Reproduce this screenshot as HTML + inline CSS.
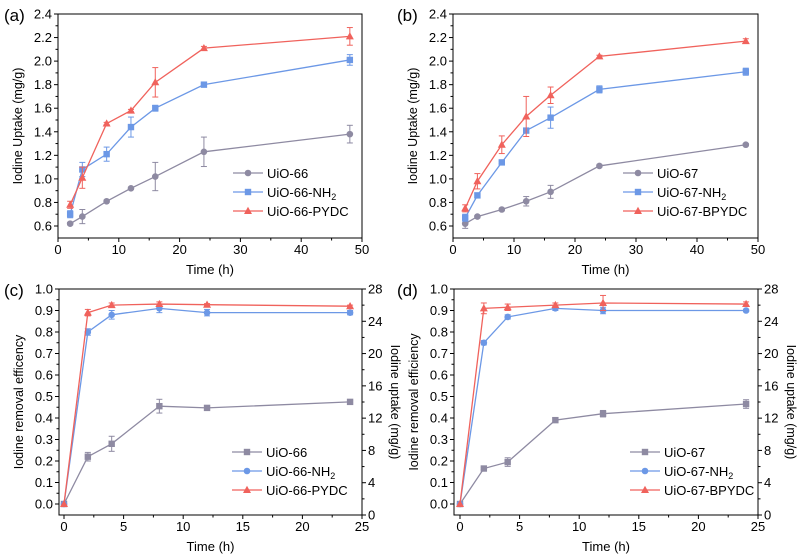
<!DOCTYPE html>
<html><head><meta charset="utf-8">
<style>
html,body{margin:0;padding:0;background:#fff;}
svg{display:block;font-family:"Liberation Sans",Arial,sans-serif;}
</style></head>
<body>
<svg id="fig" width="800" height="560" viewBox="0 0 800 560" xmlns="http://www.w3.org/2000/svg"></svg>
<script>
// ---- data ----
const timeAB = [2,4,8,12,16,24,48];
const timeCD = [0,2,4,8,12,24];
const a66 = [0.62,0.68,0.81,0.92,1.02,1.23,1.38];
const a66Err = [0.01,0.06,0.01,0.01,0.12,0.125,0.075];
const a66NH2 = [0.70,1.08,1.21,1.44,1.60,1.80,2.01];
const a66NH2Err = [0.03,0.06,0.06,0.085,0.025,0.01,0.045];
const a66PYDC = [0.78,1.01,1.47,1.58,1.82,2.11,2.21];
const a66PYDCErr = [0.03,0.09,0.01,0.01,0.125,0.015,0.075];
const b67 = [0.62,0.68,0.74,0.81,0.89,1.11,1.29];
const b67Err = [0.04,0.01,0.01,0.04,0.055,0.01,0.01];
const b67NH2 = [0.67,0.86,1.14,1.41,1.52,1.76,1.91];
const b67NH2Err = [0.03,0.02,0.01,0.02,0.09,0.03,0.03];
const b67BPYDC = [0.75,0.98,1.29,1.53,1.71,2.04,2.17];
const b67BPYDCErr = [0.03,0.065,0.075,0.17,0.07,0.01,0.02];
const c66 = [0,0.22,0.28,0.455,0.447,0.475];
const c66Err = [0,0.02,0.035,0.032,0.005,0.005];
const c66NH2 = [0,0.80,0.88,0.91,0.89,0.89];
const c66NH2Err = [0,0.015,0.02,0.02,0.015,0.01];
const c66PYDC = [0,0.89,0.925,0.93,0.927,0.92];
const c66PYDCErr = [0,0.015,0.01,0.01,0.005,0.005];
const d67 = [0,0.165,0.195,0.39,0.42,0.465];
const d67Err = [0,0.005,0.02,0.01,0.015,0.02];
const d67NH2 = [0,0.75,0.87,0.91,0.90,0.90];
const d67NH2Err = [0,0.01,0.01,0.01,0.015,0.005];
const d67BPYDC = [0,0.91,0.915,0.925,0.935,0.93];
const d67BPYDCErr = [0,0.025,0.015,0.01,0.035,0.01];
const xTicksAB = [0,10,20,30,40,50];
const yTicksAB = [0.6,0.8,1.0,1.2,1.4,1.6,1.8,2.0,2.2,2.4];
const xTicksCD = [0,5,10,15,20,25];
const yTicksCD = [0.0,0.1,0.2,0.3,0.4,0.5,0.6,0.7,0.8,0.9,1.0];
const y2TicksCD = [0,4,8,12,16,20,24,28];

const NS='http://www.w3.org/2000/svg';
const svg=document.getElementById('fig');
const GRAY='#8e8aa2', BLUE='#6c98e6', RED='#f0625c';
function mk(tag,attrs,parent){const e=document.createElementNS(NS,tag);for(const k in attrs)e.setAttribute(k,attrs[k]);(parent||svg).appendChild(e);return e;}

function panel(p){
  const g=mk('g',{});
  
  
  const sx=v=>p.px0+(v-p.x0)/(p.x1-p.x0)*(p.px1-p.px0);
  const sy=v=>p.py0-(v-p.y0)/(p.y1-p.y0)*(p.py0-p.py1);
  const L=p.fl,R=p.px1,T=p.py1,B=p.fb;
  const fr=mk('rect',{x:L,y:T,width:R-L,height:B-T,fill:'none',stroke:'#000','stroke-width':1},g);
  
  p.xt.forEach((t,i)=>{
    const x=sx(t);
    mk('line',{x1:x,x2:x,y1:B,y2:B+4,stroke:'#000'},g);
    const tx=mk('text',{x:x,y:B+16,'font-size':13,'text-anchor':'middle'},g);tx.textContent=t;
    
    if(i<p.xt.length-1){const m=sx((t+p.xt[i+1])/2);mk('line',{x1:m,x2:m,y1:B,y2:B+2.5,stroke:'#000'},g);}
  });
  p.yt.forEach((t,i)=>{
    const y=sy(t);
    mk('line',{x1:L,x2:L-4,y1:y,y2:y,stroke:'#000'},g);
    const tx=mk('text',{x:L-6,y:y+4.5,'font-size':13,'text-anchor':'end'},g);tx.textContent=t.toFixed(1);
    
    if(i<p.yt.length-1){const m=sy((t+p.yt[i+1])/2);mk('line',{x1:L,x2:L-2.5,y1:m,y2:m,stroke:'#000'},g);}
  });
  if(p.y2){
    const sy2=v=>B-(v-0)/28*(B-T);
    p.y2.forEach((t,i)=>{
      const y=sy2(t);
      mk('line',{x1:R,x2:R+4,y1:y,y2:y,stroke:'#000'},g);
      const tx=mk('text',{x:R+6,y:y+4.5,'font-size':13,'text-anchor':'start'},g);tx.textContent=t;
      
      if(i<p.y2.length-1){const m=sy2(t+2);mk('line',{x1:R,x2:R+2.5,y1:m,y2:m,stroke:'#000'},g);}
    });
    const t2=mk('text',{x:0,y:0,'font-size':12.5,'text-anchor':'middle',transform:`translate(${R+29},${(T+B)/2}) rotate(90)`},g);
    t2.textContent='Iodine uptake (mg/g)';
    
  }
  const xt=mk('text',{x:(L+R)/2,y:B+36,'font-size':13,'text-anchor':'middle'},g);xt.textContent='Time (h)';
  
  const yt=mk('text',{x:0,y:0,'font-size':12.5,'text-anchor':'middle',transform:`translate(${L-36},${(T+B)/2}) rotate(-90)`},g);yt.textContent=p.ytitle;
  
  const pl=mk('text',{x:p.lx,y:T+7,'font-size':17},g);pl.textContent=p.label;
  

  function marker(shape,x,y,c,parent){
    if(shape==='circle')return mk('circle',{cx:x,cy:y,r:3.3,fill:c},parent);
    if(shape==='square')return mk('rect',{x:x-3.2,y:y-3.2,width:6.4,height:6.4,fill:c},parent);
    return mk('polygon',{points:`${x},${y-4.2} ${x-4},${y+3} ${x+4},${y+3}`,fill:c},parent);
  }
  p.series.forEach((s,si)=>{
    const sg=mk('g',{},g);
    
    const pts=p.xs.map((x,i)=>sx(x)+','+sy(s.v[i])).join(' ');
    mk('polyline',{points:pts,fill:'none',stroke:s.c,'stroke-width':1.3},sg);
    p.xs.forEach((x,i)=>{
      const X=sx(x),y1=sy(s.v[i]+s.e[i]),y2=sy(s.v[i]-s.e[i]);
      if(s.e[i]>0){
        mk('line',{x1:X,x2:X,y1:y1,y2:y2,stroke:s.c,'stroke-width':1},sg);
        mk('line',{x1:X-3,x2:X+3,y1:y1,y2:y1,stroke:s.c,'stroke-width':1},sg);
        mk('line',{x1:X-3,x2:X+3,y1:y2,y2:y2,stroke:s.c,'stroke-width':1},sg);
      }
      const m=marker(s.m,X,sy(s.v[i]),s.c,sg);
      
    });
    const lg=mk('g',{},g);
    
    const ly=p.legY+si*19;
    mk('line',{x1:p.legX,x2:p.legX+30,y1:ly,y2:ly,stroke:s.c,'stroke-width':1.3},lg);
    marker(s.m,p.legX+15,ly,s.c,lg);
    const t=mk('text',{x:p.legX+34,y:ly+5,'font-size':13},lg);
    t.innerHTML=s.label;
  });
}
const sub='<tspan dy="3" font-size="9">2</tspan>';
panel({name:'panel-a',label:'(a)',lx:4,x0:0,x1:50,px0:58,px1:362,fl:58,y0:0.6,y1:2.4,py0:226,py1:14,fb:238,
  xt:xTicksAB,yt:yTicksAB,ytitle:'Iodine Uptake (mg/g)',xs:timeAB,legX:233,legY:173,
  series:[{key:'uio66',label:'UiO-66',v:a66,e:a66Err,c:GRAY,m:'circle'},
          {key:'uio66-nh2',label:'UiO-66-NH'+sub,v:a66NH2,e:a66NH2Err,c:BLUE,m:'square'},
          {key:'uio66-pydc',label:'UiO-66-PYDC',v:a66PYDC,e:a66PYDCErr,c:RED,m:'tri'}]});
panel({name:'panel-b',label:'(b)',lx:397,x0:0,x1:50,px0:453,px1:758,fl:453,y0:0.6,y1:2.4,py0:226,py1:14,fb:238,
  xt:xTicksAB,yt:yTicksAB,ytitle:'Iodine Uptake (mg/g)',xs:timeAB,legX:623,legY:173,
  series:[{key:'uio67',label:'UiO-67',v:b67,e:b67Err,c:GRAY,m:'circle'},
          {key:'uio67-nh2',label:'UiO-67-NH'+sub,v:b67NH2,e:b67NH2Err,c:BLUE,m:'square'},
          {key:'uio67-bpydc',label:'UiO-67-BPYDC',v:b67BPYDC,e:b67BPYDCErr,c:RED,m:'tri'}]});
panel({name:'panel-c',label:'(c)',lx:4,x0:0,x1:25,px0:64,px1:362,fl:59,y0:0,y1:1.0,py0:504,py1:289,fb:515,
  xt:xTicksCD,yt:yTicksCD,y2:y2TicksCD,ytitle:'Iodine removal efficency',xs:timeCD,legX:232,legY:452,
  series:[{key:'uio66',label:'UiO-66',v:c66,e:c66Err,c:GRAY,m:'square'},
          {key:'uio66-nh2',label:'UiO-66-NH'+sub,v:c66NH2,e:c66NH2Err,c:BLUE,m:'circle'},
          {key:'uio66-pydc',label:'UiO-66-PYDC',v:c66PYDC,e:c66PYDCErr,c:RED,m:'tri'}]});
panel({name:'panel-d',label:'(d)',lx:397,x0:0,x1:25,px0:460,px1:758,fl:454,y0:0,y1:1.0,py0:504,py1:289,fb:515,
  xt:xTicksCD,yt:yTicksCD,y2:y2TicksCD,ytitle:'Iodine removal efficiency',xs:timeCD,legX:630,legY:452,
  series:[{key:'uio67',label:'UiO-67',v:d67,e:d67Err,c:GRAY,m:'square'},
          {key:'uio67-nh2',label:'UiO-67-NH'+sub,v:d67NH2,e:d67NH2Err,c:BLUE,m:'circle'},
          {key:'uio67-bpydc',label:'UiO-67-BPYDC',v:d67BPYDC,e:d67BPYDCErr,c:RED,m:'tri'}]});
</script>
</body></html>
